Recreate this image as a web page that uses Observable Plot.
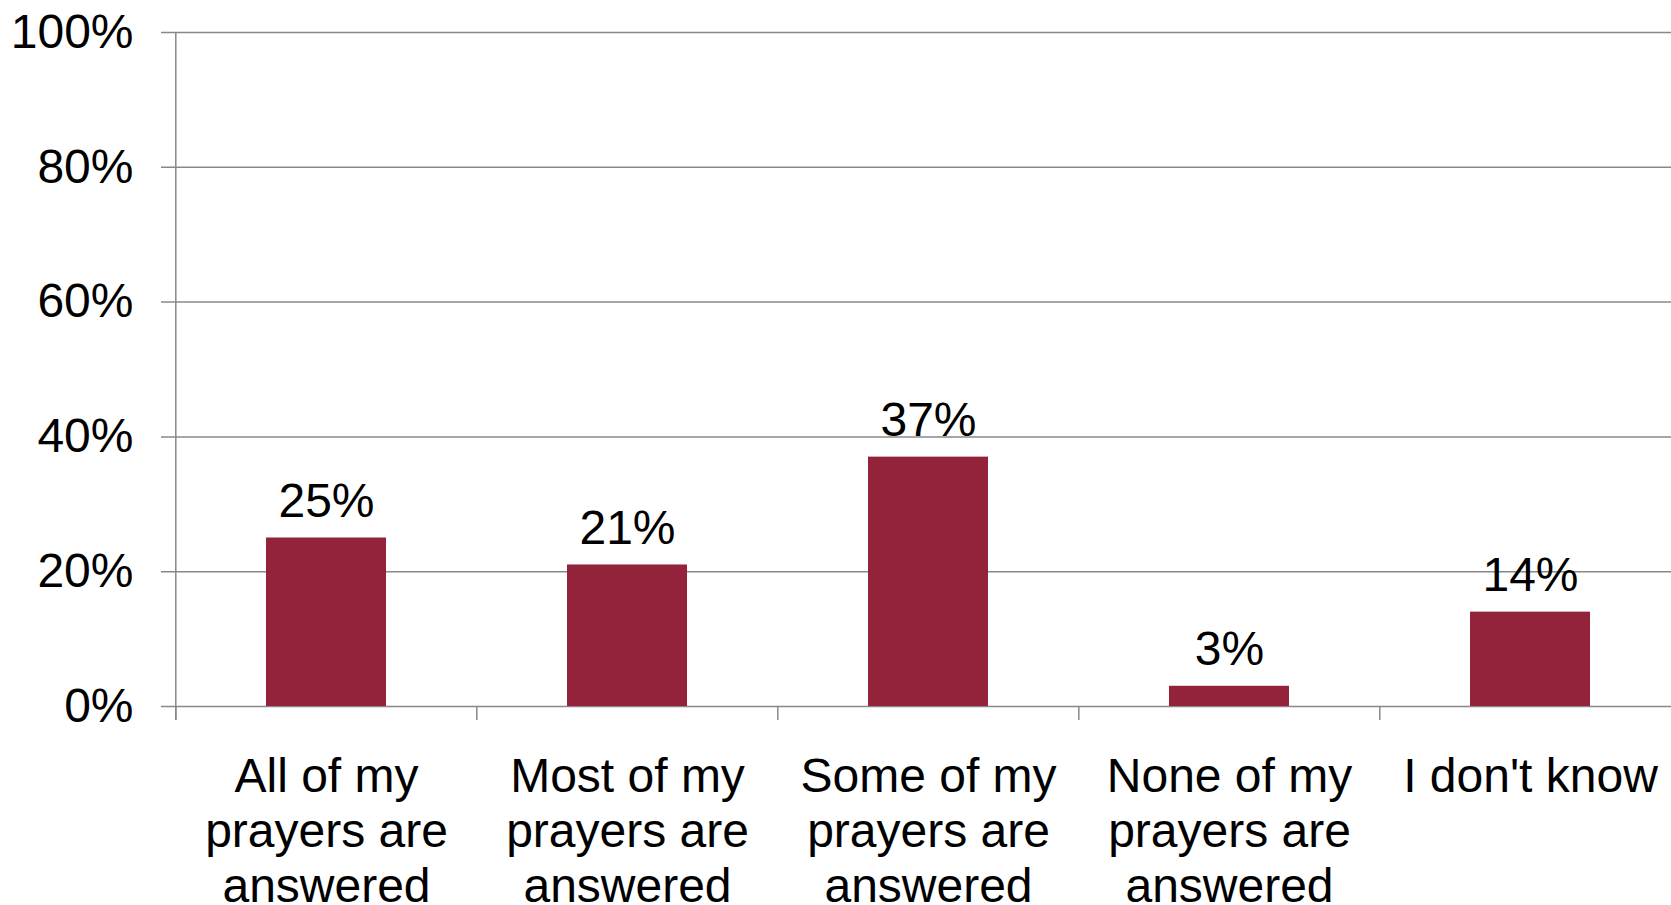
<!DOCTYPE html>
<html><head><meta charset="utf-8">
<script src="https://cdn.jsdelivr.net/npm/d3@7"></script>
<script src="https://cdn.jsdelivr.net/npm/@observablehq/plot@0.6"></script>
<style>html,body{margin:0;padding:0;background:#fff;overflow:hidden}</style>
</head><body><div id="chart"></div>
<script>
const categories = [
  "All of my\nprayers are\nanswered",
  "Most of my\nprayers are\nanswered",
  "Some of my\nprayers are\nanswered",
  "None of my\nprayers are\nanswered",
  "I don't know"
];
const values = [25, 21, 37, 3, 14];
const valueLabels = ["25%", "21%", "37%", "3%", "14%"];
const yTicks = [0, 20, 40, 60, 80, 100];
const yTickLabels = ["0%", "20%", "40%", "60%", "80%", "100%"];

const data = categories.map((c, i) => ({category: c, value: values[i], label: valueLabels[i]}));

const W = 1671, H = 905;
const xRange = [175, 1682];
const step = (xRange[1] - xRange[0]) / categories.length;
const font = "'Liberation Sans', Arial, sans-serif";
const grey = "#888888";
const barColor = "#92233a";
const fs = 48;

const plot = Plot.plot({
  width: W, height: H,
  marginLeft: 161, marginRight: 0, marginTop: 32, marginBottom: 199,
  style: {fontFamily: font, fontSize: fs + "px", color: "#000", background: "#fff"},
  x: {domain: categories, range: xRange, paddingInner: 0.6, paddingOuter: 0.3, axis: null},
  y: {domain: [0, 100], range: [706, 32], axis: null},
  marks: [
    Plot.ruleY(yTicks, {y: d => d, stroke: grey, strokeWidth: 1.5}),
    Plot.ruleX([categories[0]], {x: d => d, dx: -step / 2, y1: () => 100, y2: () => 0, insetBottom: -14, stroke: grey, strokeWidth: 1.5}),
    Plot.ruleX(categories, {x: d => d, dx: -step / 2, y1: () => 0, y2: () => 0, insetBottom: -14, stroke: grey, strokeWidth: 1.5}),
    Plot.barY(data, {x: "category", y: "value", fill: barColor}),
    Plot.text(data, {x: "category", y: "value", text: "label", lineAnchor: "bottom", dy: -21, fontSize: fs, fill: "#000"}),
    Plot.text(data, {x: "category", y: () => 0, text: "category", lineAnchor: "top", lineHeight: 1.146, dy: 46, fontSize: fs, fill: "#000"}),
    Plot.text(yTicks, {y: d => d, text: (d, i) => yTickLabels[i], frameAnchor: "left", textAnchor: "end", dx: -28, lineAnchor: "middle", fontSize: fs, fill: "#000"})
  ]
});
document.getElementById("chart").appendChild(plot);
</script>
</body></html>
